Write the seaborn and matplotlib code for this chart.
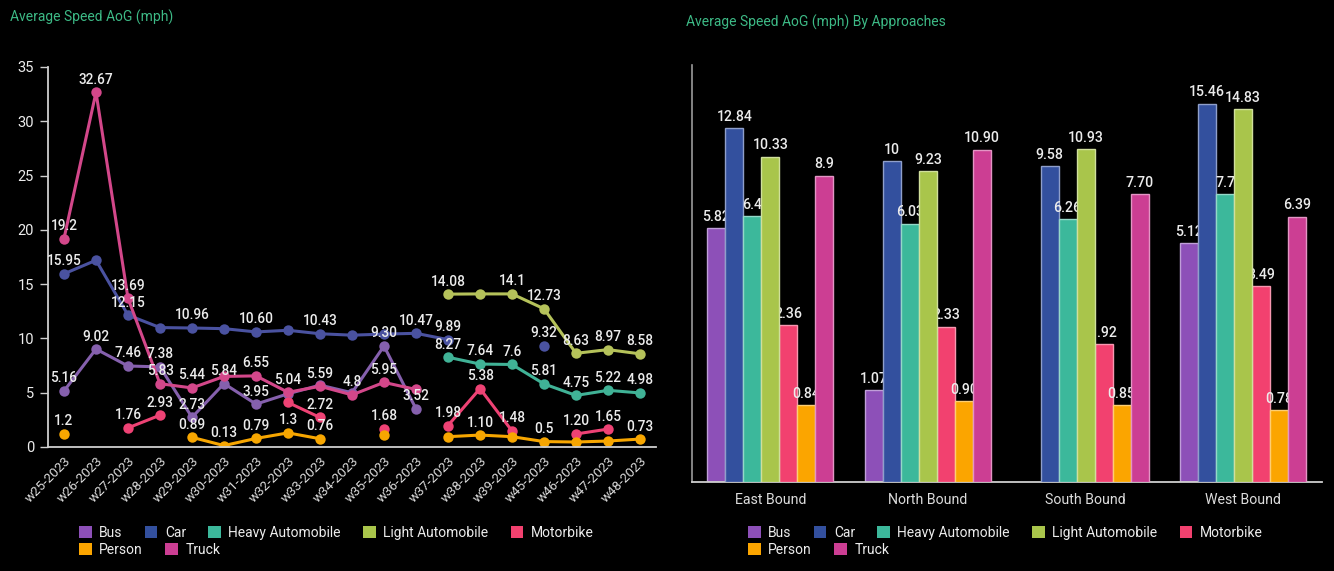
import numpy as np
import pandas as pd
import matplotlib
matplotlib.use("Agg")
import matplotlib.pyplot as plt
from matplotlib.patches import Patch
from matplotlib.colors import to_rgb
import seaborn as sns

# ---------------------------------------------------------------- data
weeks = ["w25-2023", "w26-2023", "w27-2023", "w28-2023", "w29-2023", "w30-2023",
         "w31-2023", "w32-2023", "w33-2023", "w34-2023", "w35-2023", "w36-2023",
         "w37-2023", "w38-2023", "w39-2023", "w45-2023", "w46-2023", "w47-2023",
         "w48-2023"]

vehicles = ["Bus", "Car", "Heavy Automobile", "Light Automobile",
            "Motorbike", "Person", "Truck"]

# Weekly averages: strings get a printed value label, plain numbers are
# drawn without one, None leaves a gap in the line.
bus_weekly = ["5.16", "9.02", "7.46", "7.38", "2.73", "5.84", "3.95", 4.9, 5.7,
              5.0, "9.30", "3.52", None, None, None, None, None, None, None]
car_weekly = ["15.95", 17.2, "12.15", 11.0, "10.96", 10.9, "10.60", 10.75,
              "10.43", 10.3, 10.4, "10.47", "9.89", None, None, "9.32", None,
              None, None]
heavy_weekly = [None, None, None, None, None, None, None, None, None, None, None,
                None, "8.27", "7.64", "7.6", "5.81", "4.75", "5.22", "4.98"]
light_weekly = [None, None, None, None, None, None, None, None, None, None, None,
                None, "14.08", 14.1, "14.1", "12.73", "8.63", "8.97", "8.58"]
moto_weekly = [None, None, "1.76", "2.93", None, None, None, 4.1, "2.72", None,
               "1.68", None, "1.98", "5.38", "1.48", None, "1.20", "1.65", None]
person_weekly = ["1.2", None, None, None, "0.89", "0.13", "0.79", "1.3", "0.76",
                 None, 1.1, None, 0.95, "1.10", 0.95, "0.5", 0.46, 0.55, "0.73"]
truck_weekly = ["19.2", "32.67", "13.69", "5.83", "5.44", 6.5, "6.55", "5.04",
                "5.59", "4.8", "5.95", 5.3, None, None, None, None, None, None,
                None]

approaches = ["East Bound", "North Bound", "South Bound", "West Bound"]
bus_dir = ["5.82", "1.07", None, "5.12"]
car_dir = ["12.84", "10", "9.58", "15.46"]
heavy_dir = ["6.4", "6.03", "6.26", "7.7"]
light_dir = ["10.33", "9.23", "10.93", "14.83"]
moto_dir = ["2.36", "2.33", "1.92", "3.49"]
person_dir = ["0.84", "0.90", "0.85", "0.78"]
truck_dir = ["8.9", "10.90", "7.70", "6.39"]

weekly = dict(zip(vehicles, [bus_weekly, car_weekly, heavy_weekly, light_weekly,
                             moto_weekly, person_weekly, truck_weekly]))
by_dir = dict(zip(vehicles, [bus_dir, car_dir, heavy_dir, light_dir,
                             moto_dir, person_dir, truck_dir]))

# ---------------------------------------------------------------- style
bar_colors = {"Bus": "#8d50b8", "Car": "#33509e", "Heavy Automobile": "#3cb89b",
              "Light Automobile": "#a9c54b", "Motorbike": "#f2416f",
              "Person": "#fba500", "Truck": "#cc3e93"}
line_colors = {"Bus": "#8560ad", "Car": "#4a52a0", "Heavy Automobile": "#40b296",
               "Light Automobile": "#b5c25a", "Motorbike": "#ee4274",
               "Person": "#f7a600", "Truck": "#d3478a"}
TITLE_GREEN = "#3dba86"
TEXT = "#ececec"
AXIS = "#cfcfcf"

sns.set_theme(style="ticks", rc={"figure.facecolor": "black",
                                 "axes.facecolor": "black",
                                 "savefig.facecolor": "black"})
plt.rcParams["font.family"] = ["Roboto", "DejaVu Sans"]

W, H = 1334, 571
fig = plt.figure(figsize=(W / 100, H / 100), dpi=100)


def px_box(x0, y0, x1, y1):
    return [x0 / W, 1 - y1 / H, (x1 - x0) / W, (y1 - y0) / H]


ax1 = fig.add_axes(px_box(48, 67, 656, 447))
ax2 = fig.add_axes(px_box(691.5, 65, 1322, 481.7))

# ---------------------------------------------------------------- weekly lines
rows = []
for name, vals in weekly.items():
    seg, gap = 0, True
    for i, v in enumerate(vals):
        if v is None:
            gap = True
            continue
        if gap:
            seg += 1
        gap = False
        rows.append({"pos": i, "speed": float(v), "vehicle": name,
                     "segment": f"{name}-{seg}"})
weekly_df = pd.DataFrame(rows)

sns.lineplot(data=weekly_df, x="pos", y="speed", hue="vehicle", units="segment",
             estimator=None, hue_order=vehicles, palette=line_colors,
             marker="o", markersize=7.5, markeredgewidth=0, linewidth=2.2,
             legend=False, sort=True, ax=ax1)

for name, vals in weekly.items():
    for i, v in enumerate(vals):
        if isinstance(v, str):
            ax1.annotate(v, (i, float(v)), xytext=(0, 4), textcoords="offset points",
                         ha="center", va="bottom", color=TEXT, fontsize=9.8,
                         fontweight="medium", zorder=5)

ax1.set_xlim(-0.5, len(weeks) - 0.5)
ax1.set_ylim(0, 35)
ax1.set_yticks(range(0, 36, 5))
ax1.set_xticks(range(len(weeks)))
ax1.set_xticklabels(weeks, rotation=45, ha="right", rotation_mode="anchor")
ax1.tick_params(axis="x", length=0, pad=5, labelsize=9.6, labelcolor="#d9d9d9")
ax1.tick_params(axis="y", length=6, width=1, color=AXIS, pad=4, labelsize=10.5,
                labelcolor=TEXT)
ax1.set_xlabel("")
ax1.set_ylabel("")
for side in ("top", "right"):
    ax1.spines[side].set_visible(False)
for side in ("left", "bottom"):
    ax1.spines[side].set_color(AXIS)
    ax1.spines[side].set_linewidth(1.3)
ax1.grid(False)

# ---------------------------------------------------------------- approach bars
bar_rows = []
for name, vals in by_dir.items():
    for appr, v in zip(approaches, vals):
        if v is not None:
            bar_rows.append({"approach": appr, "vehicle": name, "speed": float(v)})
bars_df = pd.DataFrame(bar_rows)

sns.barplot(data=bars_df, x="approach", y="speed", hue="vehicle",
            order=approaches, hue_order=vehicles, palette=bar_colors,
            saturation=1, width=0.8, errorbar=None, legend=False, ax=ax2)

ax2.set_yscale("function", functions=(lambda y: np.log1p(np.clip(y, 0, None) / 1.2),
                                      lambda t: 1.2 * np.expm1(t)))
ax2.set_ylim(0, 20.6)

# stacking order of each vehicle's bars and value labels
draw_rank = {"Bus": 0, "Car": 1, "Heavy Automobile": 2, "Motorbike": 3,
             "Person": 4, "Light Automobile": 5, "Truck": 6}
for name, cont in zip(vehicles, ax2.containers):
    rank = draw_rank[name]
    edge = tuple(0.55 * c + 0.45 for c in to_rgb(bar_colors[name]))
    for patch in cont:
        patch.set_zorder(2 + 2 * rank)
        patch.set_edgecolor(edge)
        patch.set_linewidth(1.0)
    labels = [v for v in by_dir[name] if v is not None]
    texts = ax2.bar_label(cont, labels=labels, padding=3, color=TEXT,
                          fontsize=10.2, fontweight="medium")
    for t in texts:
        t.set_zorder(3 + 2 * rank)

ax2.set_yticks([])
ax2.set_xlabel("")
ax2.set_ylabel("")
ax2.tick_params(axis="x", length=0, pad=8, labelsize=10.2, labelcolor="#dcdcdc")
for side in ("top", "right"):
    ax2.spines[side].set_visible(False)
ax2.spines["left"].set_color("#9a9a9a")
ax2.spines["left"].set_linewidth(1.2)
ax2.spines["bottom"].set_color(AXIS)
ax2.spines["bottom"].set_linewidth(1.3)
ax2.grid(False)

# ---------------------------------------------------------------- legends
def add_legend(names, x_px, y_top_px):
    handles = [Patch(facecolor=bar_colors[n], edgecolor="none", label=n) for n in names]
    leg = fig.legend(handles=handles, loc="upper left",
                     bbox_to_anchor=(x_px / W, 1 - y_top_px / H),
                     ncol=len(names), frameon=False, fontsize=10,
                     handlelength=0.9, handleheight=0.9, handletextpad=0.55,
                     columnspacing=1.6, borderpad=0, borderaxespad=0)
    for t in leg.get_texts():
        t.set_color(TEXT)
    return leg


row1 = vehicles[:5]
row2 = vehicles[5:]
add_legend(row1, 79, 526)
add_legend(row2, 79, 543)
add_legend(row1, 748, 526)
add_legend(row2, 748, 543)

# ---------------------------------------------------------------- titles
fig.text(10 / W, 1 - 17 / H, "Average Speed AoG (mph)", color=TITLE_GREEN,
         fontsize=10, va="center", ha="left")
fig.text(686 / W, 1 - 22 / H, "Average Speed AoG (mph) By Approaches",
         color=TITLE_GREEN, fontsize=10, va="center", ha="left")

fig.savefig("out.png", dpi=100, facecolor="black")
